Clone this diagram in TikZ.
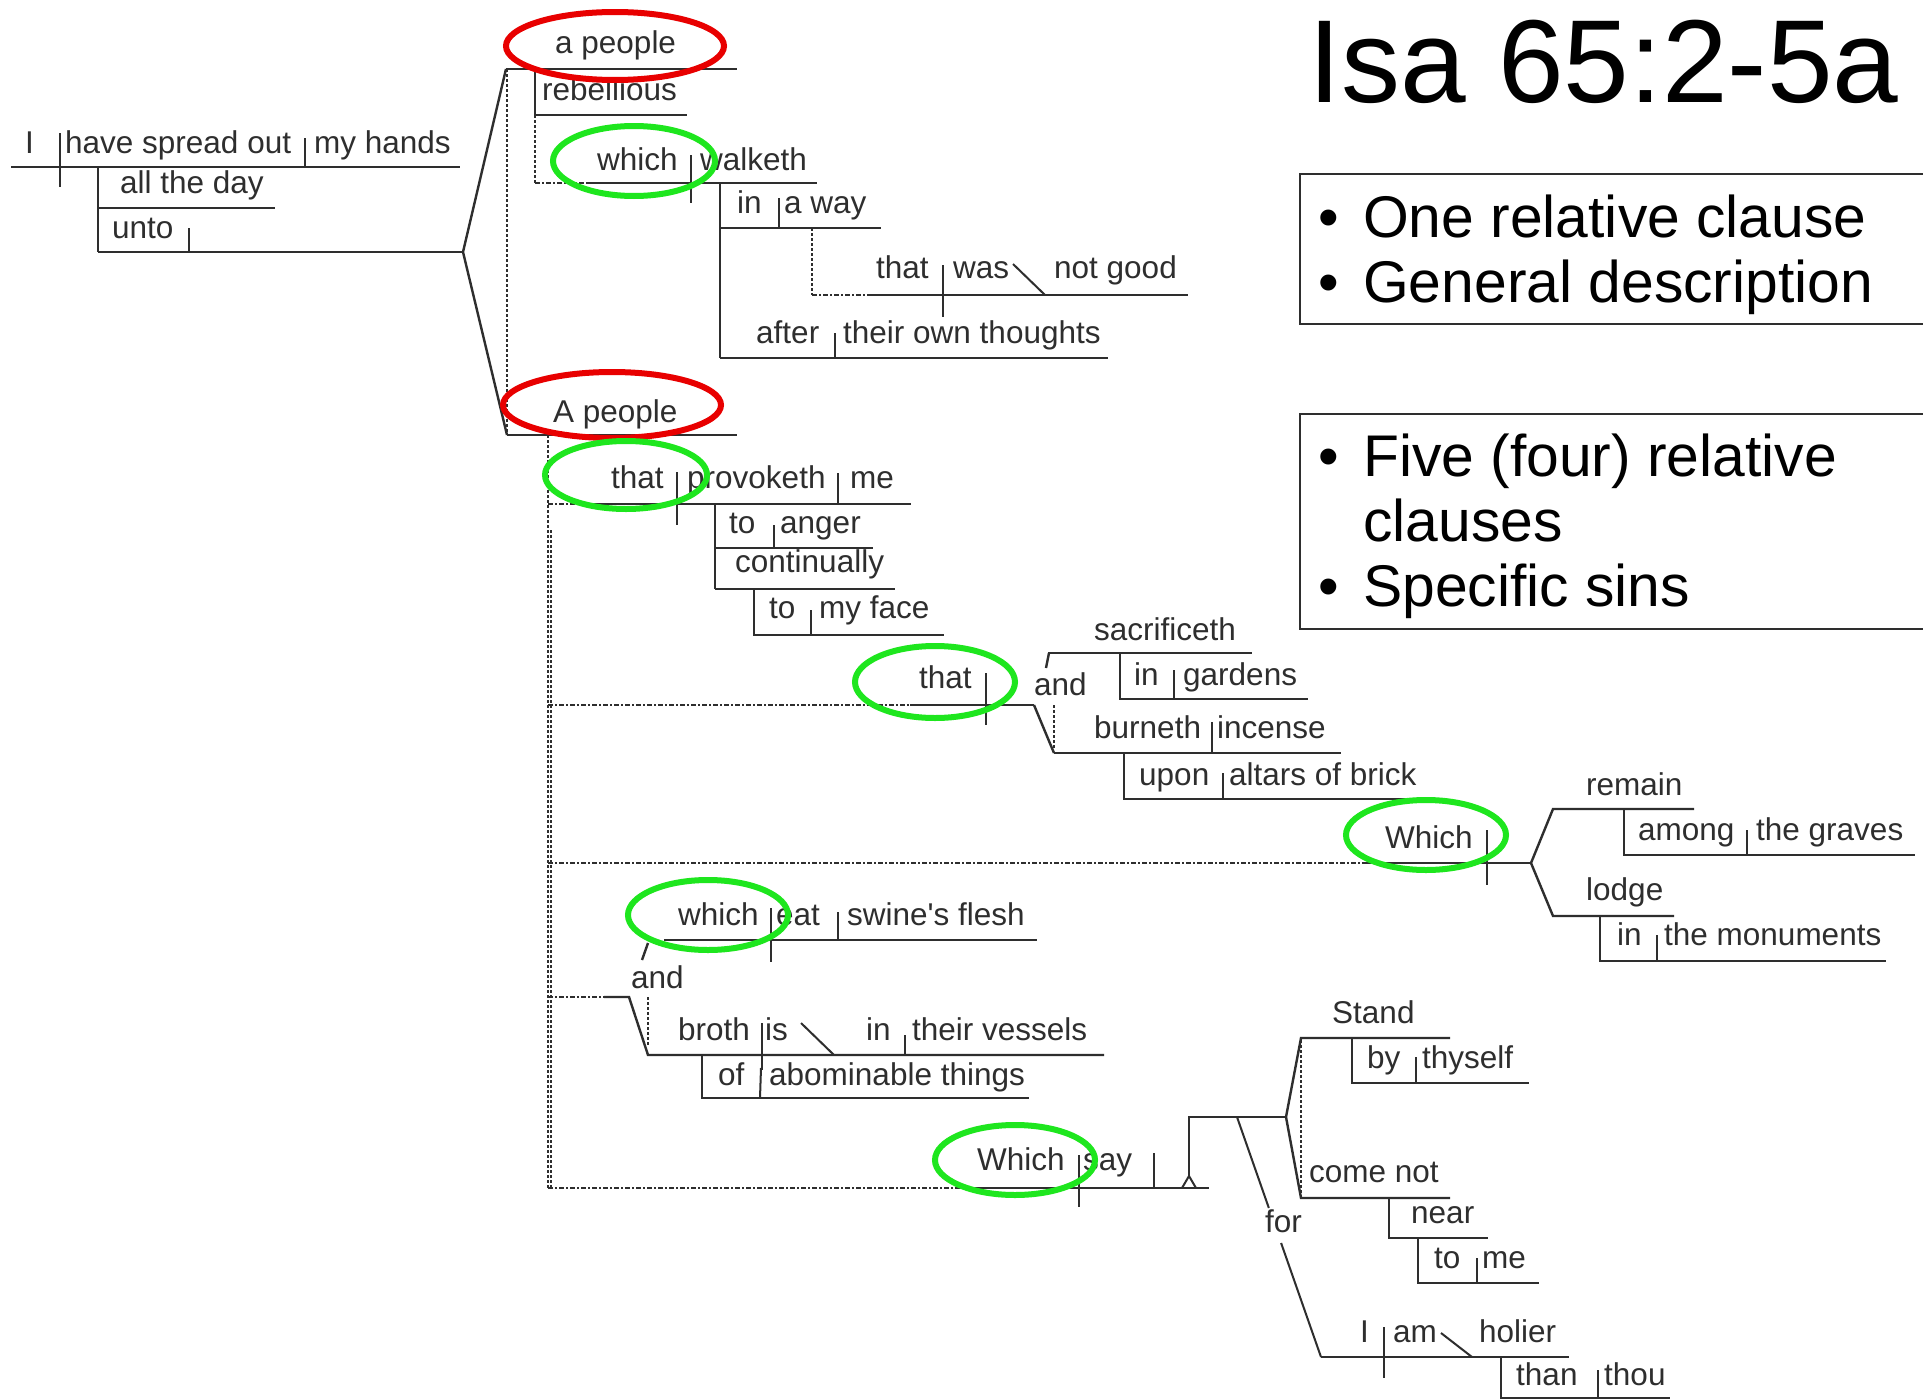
\documentclass[tikz,border=0pt]{standalone}
\usepackage{fontspec}
\setmainfont{Liberation Sans}[Ligatures=TeXOff]
\usetikzlibrary{calc}
\definecolor{ink}{HTML}{2E2E2E}
\definecolor{markred}{HTML}{E80000}
\definecolor{markgreen}{HTML}{1EE61E}
\tikzset{
  word/.style={anchor=base west, inner sep=0pt, font=\fontsize{31.5}{36}\selectfont, text=ink},
  rule/.style={draw=ink, line width=2.4pt},
  divider/.style={draw=ink, line width=2pt},
  dashrule/.style={draw=ink, line width=1.3pt, dash pattern=on 3pt off 2pt},
  dotrule/.style={draw=ink, line width=1.6pt, dash pattern=on 5pt off 2pt on 2pt off 2pt},
  redring/.style={draw=markred, line width=6pt},
  greenring/.style={draw=markgreen, line width=6pt},
  panel/.style={draw=ink, line width=1.6pt},
  bigline/.style={anchor=base west, inner sep=0pt, font=\fontsize{58.8}{65}\selectfont},
}
\begin{document}
\begin{tikzpicture}[x=1pt, y=-1pt]
\useasboundingbox (0,0) rectangle (1923,1400);
\fill[white] (0,0) rectangle (1923,1400);

% ---------- title and summary panels ----------
\node[anchor=base west, inner sep=0pt, font=\fontsize{118}{130}\selectfont] (title) at (1308,102) {Isa 65:2-5a};
\draw[panel] (1300,174) rectangle (1935,324);
\draw[panel] (1300,414) rectangle (1935,629);
\node[bigline] (b1) at (1318,237) {•};
\node[bigline] (t1) at (1363,237) {One relative clause};
\node[bigline] (b2) at (1318,302) {•};
\node[bigline] (t2) at (1363,302) {General description};
\node[bigline] (b3) at (1318,476) {•};
\node[bigline] (t3) at (1363,476) {Five (four) relative};
\node[bigline] (t4) at (1363,541) {clauses};
\node[bigline] (b5) at (1318,606) {•};
\node[bigline] (t5) at (1363,606) {Specific sins};

% ---------- main clause ----------
\draw[rule] (11,167) -- (460,167);
\draw[divider] (60,133) -- (60,187);
\draw[divider] (305,138) -- (305,167);
\draw[rule] (98,167) -- (98,252);
\draw[rule] (98,208) -- (275,208);
\draw[rule] (98,252) -- (463,252);
\draw[divider] (189,228) -- (189,252);
\coordinate (fork0) at (463,252);
\draw[rule] (fork0) -- (506,69);
\draw[rule] (fork0) -- (507,435);
\draw[dashrule] (507,69) -- (507,435);

% ---------- a people ... which walketh ----------
\draw[rule] (506,69) -- (737,69);
\draw[rule] (535,69) -- (535,115);
\draw[rule] (535,115) -- (687,115);
\draw[dashrule] (535,115) -- (535,183);
\draw[dotrule] (535,183) -- (587,183);
\draw[rule] (587,183) -- (817,183);
\draw[divider] (691,155) -- (691,203);
\draw[rule] (720,183) -- (720,358);
\draw[rule] (720,228) -- (881,228);
\draw[divider] (779,198) -- (779,228);
\draw[dashrule] (812,228) -- (812,295);
\draw[dotrule] (812,295) -- (868,295);
\draw[rule] (868,295) -- (1188,295);
\draw[divider] (943,265) -- (943,317);
\draw[divider] (1013,264) -- (1045,295);
\draw[rule] (720,358) -- (1108,358);
\draw[divider] (835,333) -- (835,358);

% ---------- A people ... that provoketh me ----------
\draw[rule] (507,435) -- (737,435);
\draw[dashrule] (548,435) -- (548,1188);
\draw[dashrule] (551,530) -- (551,1188);
\draw[dotrule] (548,504) -- (585,504);
\draw[rule] (585,504) -- (911,504);
\draw[divider] (677,472) -- (677,525);
\draw[divider] (838,473) -- (838,504);
\draw[rule] (715,504) -- (715,589);
\draw[rule] (715,548) -- (873,548);
\draw[divider] (774,525) -- (774,548);
\draw[rule] (715,589) -- (895,589);
\draw[rule] (754,589) -- (754,635) -- (944,635);
\draw[divider] (811,610) -- (811,635);

% ---------- that sacrificeth and burneth ----------
\draw[dotrule] (548,705) -- (910,705);
\draw[rule] (910,705) -- (1034,705);
\draw[divider] (986,673) -- (986,725);
\draw[rule] (1034,705) -- (1054,753);
\draw[rule] (1046,668) -- (1049,653);
\draw[dashrule] (1054,705) -- (1054,748);
\draw[rule] (1048,653) -- (1252,653);
\draw[rule] (1120,653) -- (1120,699) -- (1308,699);
\draw[divider] (1174,670) -- (1174,699);
\draw[rule] (1054,753) -- (1341,753);
\draw[divider] (1212,722) -- (1212,753);
\draw[rule] (1124,753) -- (1124,799) -- (1423,799);
\draw[divider] (1223,773) -- (1223,799);

% ---------- Which remain / lodge ----------
\draw[dotrule] (548,863) -- (1366,863);
\draw[rule] (1366,863) -- (1531,863);
\draw[divider] (1487,830) -- (1487,885);
\draw[rule] (1531,863) -- (1553,809) -- (1694,809);
\draw[rule] (1531,863) -- (1553,916) -- (1674,916);
\draw[rule] (1624,809) -- (1624,855) -- (1915,855);
\draw[divider] (1747,830) -- (1747,855);
\draw[rule] (1600,916) -- (1600,961) -- (1886,961);
\draw[divider] (1657,935) -- (1657,961);

% ---------- which eat / broth is ----------
\draw[rule] (664,940) -- (1037,940);
\draw[divider] (771,908) -- (771,962);
\draw[divider] (838,912) -- (838,940);
\draw[rule] (642,960) -- (648,943);
\draw[dotrule] (548,997) -- (604,997);
\draw[rule] (604,997) -- (629,997) -- (648,1055) -- (1104,1055);
\draw[dashrule] (648,997) -- (648,1045);
\draw[divider] (762,1023) -- (762,1070);
\draw[divider] (801,1023) -- (834,1055);
\draw[divider] (905,1035) -- (905,1055);
\draw[rule] (702,1055) -- (702,1098) -- (1029,1098);
\draw[divider] (761,1068) -- (760,1098);

% ---------- Which say ----------
\draw[dotrule] (548,1188) -- (957,1188);
\draw[rule] (957,1188) -- (1209,1188);
\draw[divider] (1079,1155) -- (1079,1207);
\draw[divider] (1154,1153) -- (1154,1188);
\draw[divider] (1182,1188) -- (1189,1176) -- (1196,1188);
\draw[rule] (1189,1176) -- (1189,1117) -- (1286,1117);
\draw[rule] (1286,1117) -- (1301,1038) -- (1450,1038);
\draw[rule] (1286,1117) -- (1301,1198) -- (1450,1198);
\draw[dashrule] (1301,1040) -- (1301,1198);
\draw[rule] (1352,1038) -- (1352,1083) -- (1529,1083);
\draw[divider] (1416,1057) -- (1416,1083);
\draw[rule] (1389,1198) -- (1389,1238) -- (1488,1238);
\draw[rule] (1418,1238) -- (1418,1283) -- (1539,1283);
\draw[divider] (1477,1258) -- (1477,1283);
\coordinate (forA) at (1237,1117);
\coordinate (forB) at (1321,1357);
\draw[divider] (forA) -- ($(forA)!0.379!(forB)$);
\draw[divider] ($(forA)!0.525!(forB)$) -- (forB);
\draw[rule] (forB) -- (1569,1357);
\draw[divider] (1384,1327) -- (1384,1378);
\draw[divider] (1441,1333) -- (1472,1357);
\draw[rule] (1501,1357) -- (1501,1398) -- (1670,1398);
\draw[divider] (1598,1370) -- (1598,1398);

% ---------- words ----------
\node[word] (w01) at (25,153) {I};
\node[word] (w02) at (65,153) {have spread out};
\node[word] (w03) at (314,153) {my hands};
\node[word] (w04) at (120,193) {all the day};
\node[word] (w05) at (112,238) {unto};
\node[word] (w06) at (555,53) {a people};
\node[word] (w07) at (542,100) {rebellious};
\node[word] (w08) at (597,170) {which};
\node[word] (w09) at (700,170) {walketh};
\node[word] (w10) at (737,213) {in};
\node[word] (w11) at (784,213) {a way};
\node[word] (w12) at (876,278) {that};
\node[word] (w13) at (953,278) {was};
\node[word] (w14) at (1054,278) {not good};
\node[word] (w15) at (756,343) {after};
\node[word] (w16) at (843,343) {their own thoughts};
\node[word] (w17) at (553,422) {A people};
\node[word] (w18) at (611,488) {that};
\node[word] (w19) at (687,488) {provoketh};
\node[word] (w20) at (850,488) {me};
\node[word] (w21) at (729,533) {to};
\node[word] (w22) at (780,533) {anger};
\node[word] (w23) at (735,572) {continually};
\node[word] (w24) at (769,618) {to};
\node[word] (w25) at (819,618) {my face};
\node[word] (w26) at (919,688) {that};
\node[word] (w27) at (1034,695) {and};
\node[word] (w28) at (1094,640) {sacrificeth};
\node[word] (w29) at (1134,685) {in};
\node[word] (w30) at (1183,685) {gardens};
\node[word] (w31) at (1094,738) {burneth};
\node[word] (w32) at (1217,738) {incense};
\node[word] (w33) at (1139,785) {upon};
\node[word] (w34) at (1229,785) {altars of brick};
\node[word] (w35) at (1385,848) {Which};
\node[word] (w36) at (1586,795) {remain};
\node[word] (w37) at (1638,840) {among};
\node[word] (w38) at (1756,840) {the graves};
\node[word] (w39) at (1586,900) {lodge};
\node[word] (w40) at (1617,945) {in};
\node[word] (w41) at (1664,945) {the monuments};
\node[word] (w42) at (678,925) {which};
\node[word] (w43) at (776,925) {eat};
\node[word] (w44) at (847,925) {swine's flesh};
\node[word] (w45) at (631,988) {and};
\node[word] (w46) at (678,1040) {broth};
\node[word] (w47) at (765,1040) {is};
\node[word] (w48) at (866,1040) {in};
\node[word] (w49) at (912,1040) {their vessels};
\node[word] (w50) at (718,1085) {of};
\node[word] (w51) at (769,1085) {abominable things};
\node[word] (w52) at (977,1170) {Which};
\node[word] (w53) at (1083,1170) {say};
\node[word] (w54) at (1265,1232) {for};
\node[word] (w55) at (1332,1023) {Stand};
\node[word] (w56) at (1367,1068) {by};
\node[word] (w57) at (1422,1068) {thyself};
\node[word] (w58) at (1309,1182) {come not};
\node[word] (w59) at (1411,1223) {near};
\node[word] (w60) at (1434,1268) {to};
\node[word] (w61) at (1482,1268) {me};
\node[word] (w62) at (1360,1342) {I};
\node[word] (w63) at (1393,1342) {am};
\node[word] (w64) at (1479,1342) {holier};
\node[word] (w65) at (1516,1385) {than};
\node[word] (w66) at (1604,1385) {thou};

% ---------- highlight rings ----------
\draw[redring] (615,46) ellipse [x radius=109pt, y radius=34pt];
\draw[redring] (612,405) ellipse [x radius=109pt, y radius=33pt];
\draw[greenring] (634,161) ellipse [x radius=81pt, y radius=35pt];
\draw[greenring] (626,475) ellipse [x radius=81pt, y radius=34pt];
\draw[greenring] (935,682) ellipse [x radius=80pt, y radius=36pt];
\draw[greenring] (1426,835) ellipse [x radius=80pt, y radius=35pt];
\draw[greenring] (708,915) ellipse [x radius=80pt, y radius=35pt];
\draw[greenring] (1015,1160) ellipse [x radius=80pt, y radius=35pt];
\end{tikzpicture}
\end{document}
